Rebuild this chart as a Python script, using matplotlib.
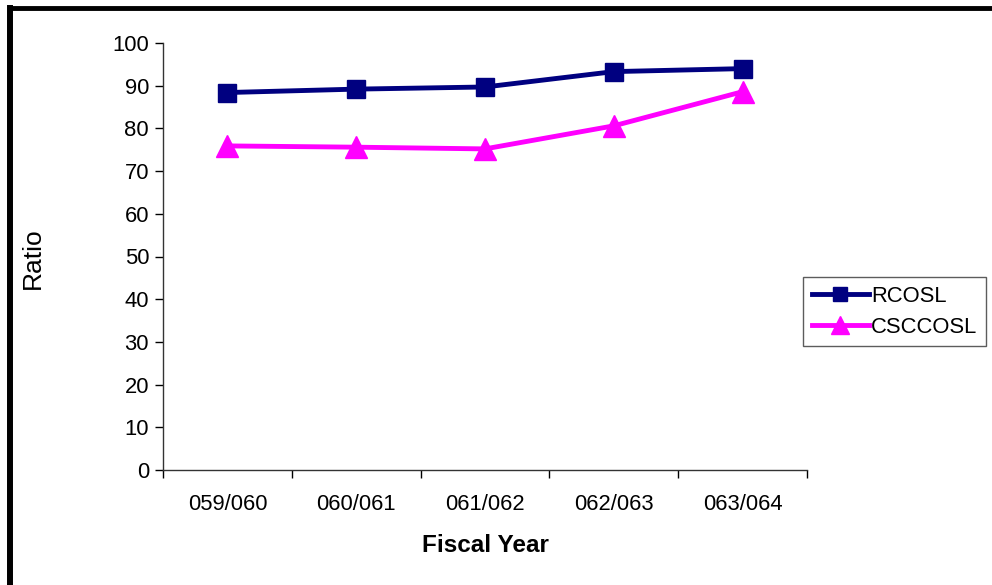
import matplotlib
matplotlib.use("Agg")
import matplotlib.pyplot as plt
from matplotlib.lines import Line2D
import numpy as np

plt.rcParams['font.family'] = ['Liberation Sans', 'DejaVu Sans']

categories = ["059/060", "060/061", "061/062", "062/063", "063/064"]
rcosl = [88.4, 89.2, 89.7, 93.3, 94.0]
csccosl = [75.9, 75.6, 75.2, 80.6, 88.6]
yticks = list(range(0, 101, 10))

W, H = 992, 585
fig = plt.figure(figsize=(W / 100, H / 100), dpi=100)
ax = fig.add_axes([163 / W, 1 - 470 / H, (807 - 163) / W, (470 - 43) / H])

x = np.arange(len(categories))
ax.plot(x, rcosl, color="#000080", lw=3.5, marker="s", ms=12.5, label="RCOSL", zorder=3)
ax.plot(x, csccosl, color="#FF00FF", lw=3.5, marker="^", ms=16, label="CSCCOSL", zorder=3)

ax.set_xlim(-0.5, len(categories) - 0.5)
ax.set_ylim(0, 100)
ax.set_yticks(yticks)
ax.set_xticks(np.arange(-0.5, len(categories), 1.0))
ax.set_xticklabels([])
ax.set_xticks(x, minor=True)
ax.set_xticklabels(categories, minor=True)
ax.tick_params(axis="x", which="minor", length=0, pad=17, labelsize=15.8)
ax.tick_params(axis="x", which="major", direction="out", length=6, width=1)
ax.tick_params(axis="y", direction="out", length=6, width=1, labelsize=15.8, pad=4)
for s in ["top", "right"]:
    ax.spines[s].set_visible(False)
for s in ["left", "bottom"]:
    ax.spines[s].set_color("#333333")
    ax.spines[s].set_linewidth(1)

ax.set_xlabel("Fiscal Year", fontsize=17.5, fontweight="bold", labelpad=14)
fig.text(33 / W, 1 - 258 / H, "Ratio", rotation=90, fontsize=19, ha="center", va="center")

leg = fig.legend(loc="upper left", bbox_to_anchor=(803 / W, 1 - 277 / H),
                 bbox_transform=fig.transFigure, borderaxespad=0, fancybox=False,
                 frameon=True, fontsize=15.8, handlelength=2.6, handletextpad=0.1,
                 borderpad=0.4, labelspacing=0.45, markerscale=0.8)
leg.get_frame().set_edgecolor("#333333")
leg.get_frame().set_linewidth(1)

# page border (left and top)
fig.add_artist(Line2D([10 / W, 10 / W], [0, 1 - 8 / H], transform=fig.transFigure,
                      color="black", lw=4.3, solid_capstyle="projecting"))
fig.add_artist(Line2D([10 / W, 1], [1 - 8 / H, 1 - 8 / H], transform=fig.transFigure,
                      color="black", lw=3.5, solid_capstyle="projecting"))

fig.savefig("out.png", dpi=100)
